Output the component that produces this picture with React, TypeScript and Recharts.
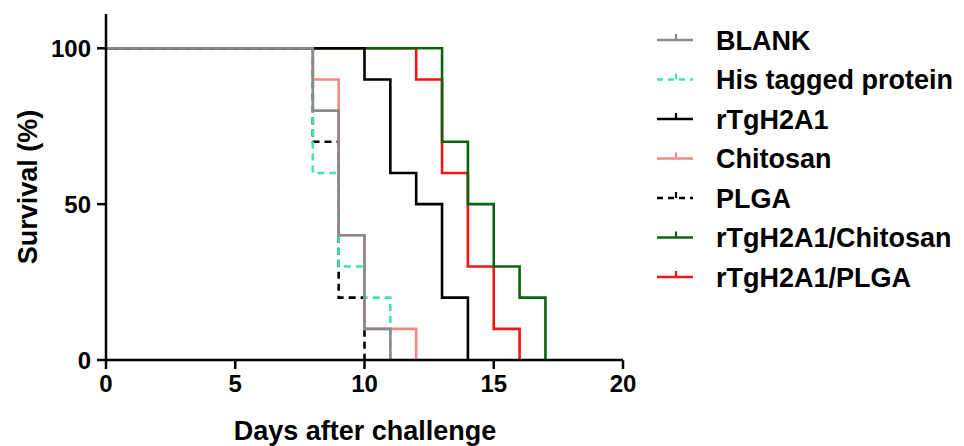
import React from 'react';
import { LineChart, Line, XAxis, YAxis } from 'recharts';

const seriesNames = ['BLANK', 'His tagged protein', 'rTgH2A1', 'Chitosan', 'PLGA', 'rTgH2A1/Chitosan', 'rTgH2A1/PLGA'];
const blankDays = [0, 8, 9, 10, 11];
const blankSurv = [100, 80, 40, 10, 0];
const hisDays = [0, 8, 9, 10, 11];
const hisSurv = [100, 60, 30, 20, 0];
const rtgDays = [0, 10, 11, 12, 13, 14];
const rtgSurv = [100, 90, 60, 50, 20, 0];
const chitDays = [0, 8, 9, 10, 12];
const chitSurv = [100, 90, 40, 10, 0];
const plgaDays = [0, 8, 9, 10];
const plgaSurv = [100, 70, 20, 0];
const rtgChitDays = [0, 13, 14, 15, 16, 17];
const rtgChitSurv = [100, 70, 50, 30, 20, 0];
const rtgPlgaDays = [0, 12, 13, 14, 15, 16];
const rtgPlgaSurv = [100, 90, 60, 30, 10, 0];
const xTicks = [0, 5, 10, 15, 20];
const yTicks = [0, 50, 100];

const colors = ['#8a8a8a', '#3ee6ae', '#000000', '#f58a84', '#000000', '#0a640a', '#f41414'];
const dashes = [undefined, '7 5', undefined, undefined, '7 5', undefined, undefined];

const toPts = (d: number[], s: number[]) => d.map((x, i) => ({ x, y: s[i] }));
const seriesData = [
  toPts(blankDays, blankSurv),
  toPts(hisDays, hisSurv),
  toPts(rtgDays, rtgSurv),
  toPts(chitDays, chitSurv),
  toPts(plgaDays, plgaSurv),
  toPts(rtgChitDays, rtgChitSurv),
  toPts(rtgPlgaDays, rtgPlgaSurv),
];

const FONT = '"Liberation Sans", Arial, Helvetica, sans-serif';

export default function App() {
  const order = [6, 5, 4, 3, 2, 1, 0];
  return (
    <div style={{ position: 'absolute', left: 0, top: 0, width: 964, height: 446, background: '#fff' }}>
      <LineChart
        width={964}
        height={446}
        margin={{ top: 14, right: 341, bottom: 36, left: 0 }}
        style={{ position: 'absolute', left: 0, top: 0 }}
      >
        <XAxis
          type="number"
          dataKey="x"
          domain={[0, 20]}
          ticks={xTicks}
          allowDuplicatedCategory={false}
          height={50}
          tickSize={9}
          tickMargin={6}
          axisLine={{ stroke: '#000', strokeWidth: 2.5 }}
          tickLine={{ stroke: '#000', strokeWidth: 2.5 }}
          tick={{ fill: '#000', fontSize: 24, fontWeight: 700, fontFamily: FONT }}
        />
        <YAxis
          type="number"
          domain={[0, 111]}
          ticks={yTicks}
          width={106}
          tickSize={9}
          tickMargin={6}
          axisLine={{ stroke: '#000', strokeWidth: 2.5 }}
          tickLine={{ stroke: '#000', strokeWidth: 2.5 }}
          tick={{ fill: '#000', fontSize: 24, fontWeight: 700, fontFamily: FONT }}
        />
        {order.map((i) => (
          <Line
            key={seriesNames[i]}
            data={seriesData[i]}
            dataKey="y"
            name={seriesNames[i]}
            type="stepAfter"
            stroke={colors[i]}
            strokeWidth={2.6}
            strokeDasharray={dashes[i]}
            dot={false}
            activeDot={false}
            isAnimationActive={false}
          />
        ))}
      </LineChart>
      <svg width={964} height={446} style={{ position: 'absolute', left: 0, top: 0, pointerEvents: 'none' }}>
        <text
          x={37}
          y={187}
          transform="rotate(-90 37 187)"
          textAnchor="middle"
          fontSize={27}
          fontWeight={700}
          fontFamily={FONT}
          fill="#000"
        >
          Survival (%)
        </text>
        <text x={365} y={440} textAnchor="middle" fontSize={27} fontWeight={700} fontFamily={FONT} fill="#000">
          Days after challenge
        </text>
        {seriesNames.map((name, i) => {
          const cy = 40 + i * 39.5;
          return (
            <g key={name}>
              <line x1={657} x2={693} y1={cy} y2={cy} stroke={colors[i]} strokeWidth={2.6} strokeDasharray={dashes[i] ? '6 5' : undefined} />
              <line x1={676} x2={676} y1={cy} y2={cy - 6} stroke={colors[i]} strokeWidth={2.2} />
              <text x={716} y={cy + 9.5} fontSize={27} fontWeight={700} fontFamily={FONT} fill="#000">
                {name}
              </text>
            </g>
          );
        })}
      </svg>
    </div>
  );
}
